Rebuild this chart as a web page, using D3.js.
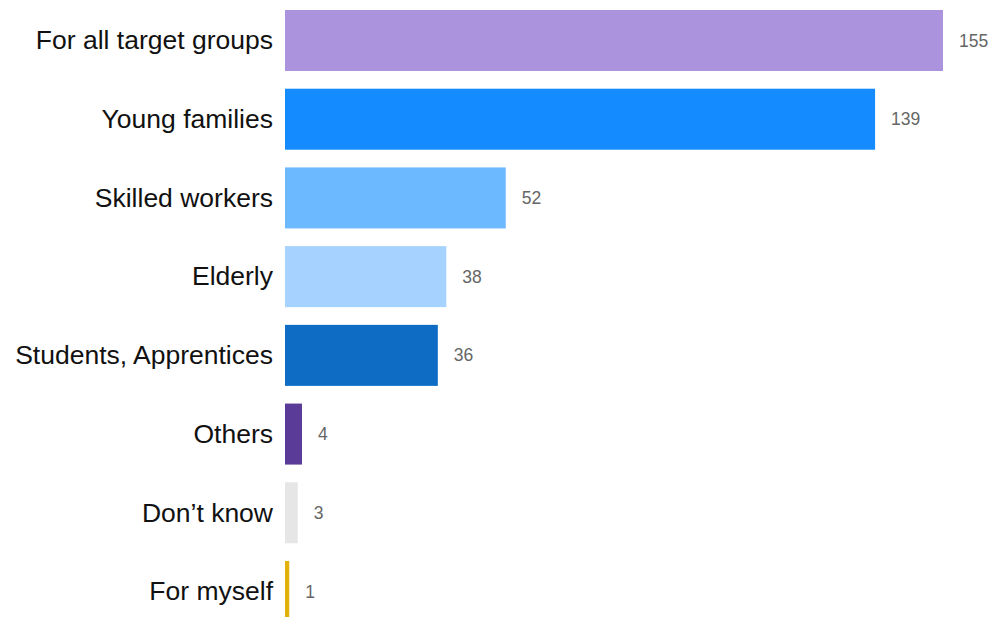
<!DOCTYPE html>
<html>
<head>
<meta charset="utf-8">
<script src="https://cdn.jsdelivr.net/npm/d3@7"></script>
<style>
  html, body { margin: 0; padding: 0; background: #ffffff; }
  svg { display: block; }
</style>
</head>
<body>
<svg id="chart" width="994" height="617"></svg>
<script>
// Target groups and the number of answers for each
const categories = [
  "For all target groups",
  "Young families",
  "Skilled workers",
  "Elderly",
  "Students, Apprentices",
  "Others",
  "Don\u2019t know",
  "For myself"
];
const counts = [155, 139, 52, 38, 36, 4, 3, 1];
const barColors = [
  "#ab94dd",
  "#148cff",
  "#6db9ff",
  "#a5d2ff",
  "#0f6cc4",
  "#5b3b98",
  "#e6e6e6",
  "#e2b10c"
];

const svg = d3.select("#chart");

const x = d3.scaleLinear()
  .domain([0, 155])
  .range([285, 943]);

const y = d3.scaleBand()
  .domain(categories)
  .range([10, 622])
  .paddingInner(0.225)
  .paddingOuter(0);

const rows = categories.map((c, i) => ({ name: c, value: counts[i], color: barColors[i] }));

// Bars
svg.append("g")
  .selectAll("rect")
  .data(rows)
  .join("rect")
  .attr("x", x(0))
  .attr("y", d => y(d.name))
  .attr("width", d => x(d.value) - x(0))
  .attr("height", y.bandwidth())
  .attr("fill", d => d.color);

// Category labels on the left
const yAxis = d3.axisLeft(y).tickSize(0).tickPadding(0);
const axisG = svg.append("g")
  .attr("transform", `translate(273,0)`)
  .call(yAxis);
axisG.select(".domain").remove();
axisG.selectAll("text")
  .attr("font-family", "'Liberation Sans', Arial, sans-serif")
  .attr("font-size", 26.5)
  .attr("fill", "#111")
  .attr("dy", "0.33em");

// Value labels at the end of each bar
svg.append("g")
  .selectAll("text")
  .data(rows)
  .join("text")
  .attr("x", d => x(d.value) + 16)
  .attr("y", d => y(d.name) + y.bandwidth() / 2)
  .attr("dy", "0.35em")
  .attr("font-family", "'Liberation Sans', Arial, sans-serif")
  .attr("font-size", 17.5)
  .attr("fill", "#666")
  .text(d => d.value);
</script>
</body>
</html>
